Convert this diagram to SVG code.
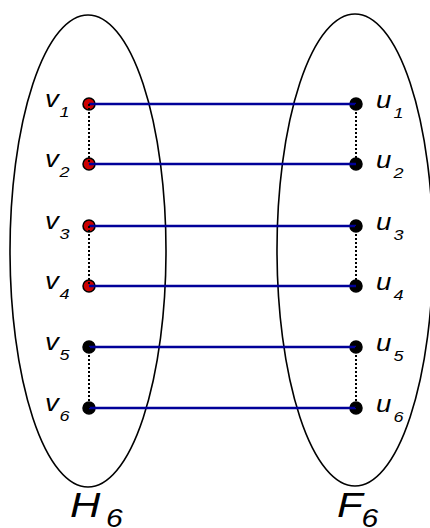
<svg xmlns="http://www.w3.org/2000/svg" width="430" height="528" viewBox="0 0 430 528">
<style>
.set{fill:none;stroke:#000;stroke-width:1.6}
.red{fill:#cc0000;stroke:#000;stroke-width:1.5}
.blk{fill:#000;stroke:#000;stroke-width:1.5}
.edge{stroke:#000099;stroke-width:2.5;fill:none}
.dot{stroke:#000;stroke-width:2;stroke-dasharray:2,2;fill:none}
.lbl{font-family:"Liberation Sans",Arial,sans-serif;font-style:italic;font-size:23px;fill:#000}
.sub{font-size:15px}
.big{font-family:"Liberation Sans",Arial,sans-serif;font-style:italic;font-size:35px;fill:#000}
.bsub{font-size:25px}
</style>
<rect width="430" height="528" fill="#fff"/>
<g id="H6"><ellipse class="set" cx="88" cy="251" rx="78" ry="236"/></g>
<g id="F6"><ellipse class="set" cx="355" cy="250" rx="78" ry="236"/></g>
<g id="v1"><circle class="red" cx="89" cy="104" r="6"/><text class="lbl" transform="translate(45 107) scale(1.2 1)">v<tspan class="sub" x="12" dy="10">1</tspan></text></g>
<g id="v2"><circle class="red" cx="89" cy="164" r="6"/><text class="lbl" transform="translate(45 167) scale(1.2 1)">v<tspan class="sub" x="12" dy="10">2</tspan></text></g>
<g id="v3"><circle class="red" cx="89" cy="226" r="6"/><text class="lbl" transform="translate(45 229) scale(1.2 1)">v<tspan class="sub" x="12" dy="10">3</tspan></text></g>
<g id="v4"><circle class="red" cx="89" cy="286" r="6"/><text class="lbl" transform="translate(45 289) scale(1.2 1)">v<tspan class="sub" x="12" dy="10">4</tspan></text></g>
<g id="v5"><circle class="blk" cx="89" cy="347" r="6"/><text class="lbl" transform="translate(45 350) scale(1.2 1)">v<tspan class="sub" x="12" dy="10">5</tspan></text></g>
<g id="v6"><circle class="blk" cx="89" cy="408" r="6"/><text class="lbl" transform="translate(45 411) scale(1.2 1)">v<tspan class="sub" x="12" dy="10">6</tspan></text></g>
<g id="u1"><circle class="blk" cx="356" cy="104" r="6"/><text class="lbl" transform="translate(376 108) scale(1.2 1)">u<tspan class="sub" x="14.5" dy="10">1</tspan></text></g>
<g id="u2"><circle class="blk" cx="356" cy="164" r="6"/><text class="lbl" transform="translate(376 168) scale(1.2 1)">u<tspan class="sub" x="14.5" dy="10">2</tspan></text></g>
<g id="u3"><circle class="blk" cx="356" cy="226" r="6"/><text class="lbl" transform="translate(376 230) scale(1.2 1)">u<tspan class="sub" x="14.5" dy="10">3</tspan></text></g>
<g id="u4"><circle class="blk" cx="356" cy="286" r="6"/><text class="lbl" transform="translate(376 290) scale(1.2 1)">u<tspan class="sub" x="14.5" dy="10">4</tspan></text></g>
<g id="u5"><circle class="blk" cx="356" cy="347" r="6"/><text class="lbl" transform="translate(376 351) scale(1.2 1)">u<tspan class="sub" x="14.5" dy="10">5</tspan></text></g>
<g id="u6"><circle class="blk" cx="356" cy="408" r="6"/><text class="lbl" transform="translate(376 412) scale(1.2 1)">u<tspan class="sub" x="14.5" dy="10">6</tspan></text></g>
<g id="labels">
<text class="big" transform="translate(70 517) scale(1.2 1)">H<tspan class="bsub" x="30" dy="10">6</tspan></text>
<text class="big" transform="translate(337 517) scale(1.2 1)">F<tspan class="bsub" x="20.5" dy="10">6</tspan></text>
</g>
<g id="connectors">
<path class="edge" d="M89 104H356M89 164H356M89 226H356M89 286H356M89 347H356M89 408H356"/>
<path class="dot" d="M89 104V164M89 226V286M89 347V408M356 104V164M356 226V286M356 347V408"/>
</g>
</svg>
